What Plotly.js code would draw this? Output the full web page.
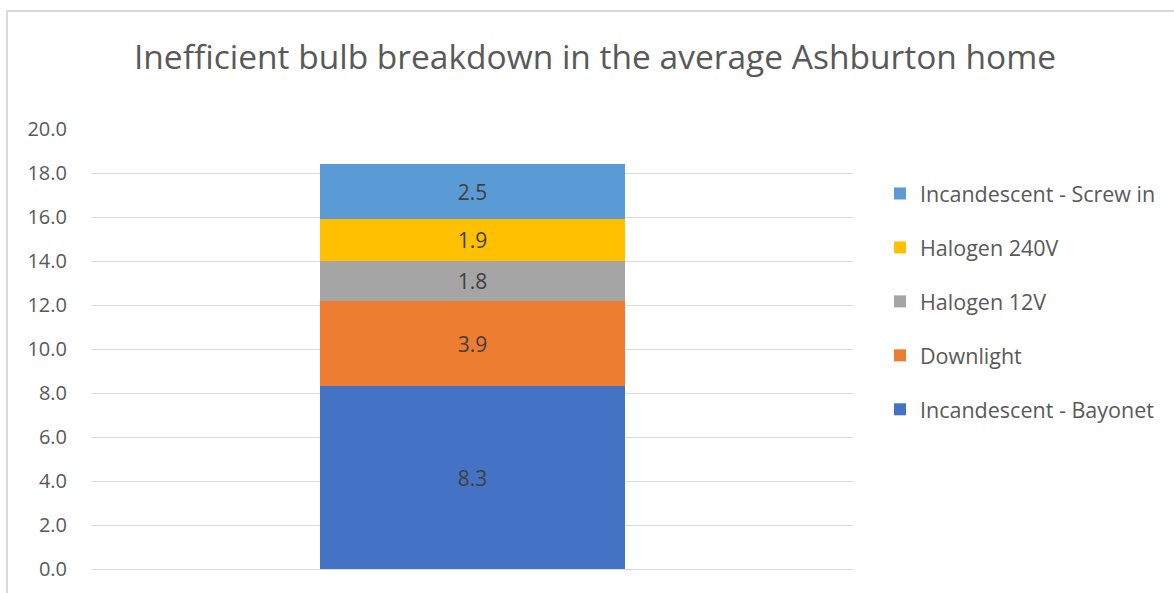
<!DOCTYPE html>
<html>
<head>
<meta charset="utf-8">
<script src="https://cdn.plot.ly/plotly-3.0.1.min.js"></script>
<style>
  html, body { margin: 0; padding: 0; background: #ffffff; overflow: hidden; }
  #frame { position: absolute; left: 6px; top: 10px; width: 1400px; height: 800px;
           border-left: 2px solid #d9d9d9; border-top: 2px solid #d9d9d9; box-sizing: border-box; }
  #chart { position: absolute; left: 0; top: 0; width: 1174px; height: 593px; }
</style>
</head>
<body>
<div id="frame"></div>
<div id="chart"></div>
<script>
const categories = ["Average Ashburton home"];
const seriesNames = ["Incandescent - Bayonet", "Downlight", "Halogen 12V", "Halogen 240V", "Incandescent - Screw in"];
const bayonet = [8.3];
const downlight = [3.9];
const halogen12 = [1.8];
const halogen240 = [1.9];
const screwIn = [2.5];
const seriesValues = [bayonet, downlight, halogen12, halogen240, screwIn];
const seriesColors = ["#4472c4", "#ed7d31", "#a5a5a5", "#ffc000", "#5b9bd5"];
const yTickVals = [0, 2, 4, 6, 8, 10, 12, 14, 16, 18, 20];

const FONT = "'Open Sans', Lato, sans-serif";

const traces = seriesNames.map((name, i) => ({
  type: "bar",
  name: name,
  x: categories,
  y: seriesValues[i],
  marker: { color: seriesColors[i], line: { width: 0 } },
  width: 0.4,
  texttemplate: "%{y:.1f}",
  textposition: "inside",
  insidetextanchor: "middle",
  constraintext: "none",
  textfont: { family: FONT, size: 21, color: "#404040" },
  legendgroup: "g" + i,
  legendrank: seriesNames.length - i,
  hoverinfo: "name+y"
}));

const layout = {
  width: 1174,
  height: 593,
  paper_bgcolor: "rgba(0,0,0,0)",
  plot_bgcolor: "rgba(0,0,0,0)",
  barmode: "stack",
  margin: { l: 92, r: 321, t: 129, b: 24, pad: 0 },
  font: { family: FONT, color: "#595959" },
  title: {
    text: "Inefficient bulb breakdown in the average Ashburton home",
    font: { family: FONT, size: 33.5, color: "#595959" },
    x: 595 / 1174, xanchor: "center", xref: "container",
    y: 1 - 57 / 593, yanchor: "middle", yref: "container"
  },
  xaxis: {
    showticklabels: false,
    showgrid: false,
    zeroline: false,
    showline: false,
    ticks: "",
    range: [-0.5, 0.5],
    fixedrange: true
  },
  yaxis: {
    range: [0, 20],
    tickvals: yTickVals,
    tickformat: ".1f",
    showgrid: true,
    gridcolor: "#d9d9d9",
    gridwidth: 1,
    zeroline: true,
    zerolinecolor: "#d9d9d9",
    zerolinewidth: 1,
    showline: false,
    ticks: "outside",
    ticklen: 20,
    tickcolor: "rgba(0,0,0,0)",
    tickfont: { family: FONT, size: 20, color: "#595959" },
    fixedrange: true
  },
  showlegend: true,
  legend: {
    x: 1 + (880 - 853) / 761, xanchor: "left",
    y: 0.9, yanchor: "top",
    traceorder: "grouped",
    tracegroupgap: 23,
    font: { family: FONT, size: 21.5, color: "#595959" },
    itemwidth: 30,
    bgcolor: "rgba(0,0,0,0)"
  }
};

Plotly.newPlot("chart", traces, layout, { displayModeBar: false, staticPlot: true });
</script>
</body>
</html>
